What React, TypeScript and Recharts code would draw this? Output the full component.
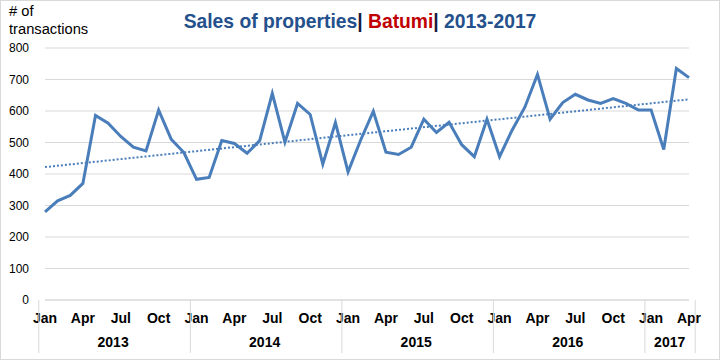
import { LineChart, Line, XAxis, YAxis, CartesianGrid } from "recharts";

const MONTHS = ["Jan", "Feb", "Mar", "Apr", "May", "Jun", "Jul", "Aug", "Sep", "Oct", "Nov", "Dec"];
const YEARS = [2013, 2014, 2015, 2016, 2017];

// monthly number of transactions
const sales2013 = [280, 315, 332, 370, 586, 561, 519, 485, 473, 603, 510, 468];
const sales2014 = [383, 389, 506, 497, 466, 506, 656, 501, 624, 589, 431, 563];
const sales2015 = [407, 508, 599, 469, 462, 485, 574, 532, 564, 493, 455, 574];
const sales2016 = [455, 540, 612, 716, 574, 627, 653, 635, 624, 639, 624, 603];
const sales2017 = [603, 478, 735, 706];
const SALES_BY_YEAR = [sales2013, sales2014, sales2015, sales2016, sales2017];

// linear trend end points (first and last month)
const TREND_START = 422;
const TREND_END = 637;

const Y_TICKS = [0, 100, 200, 300, 400, 500, 600, 700, 800];

const W = 720;
const H = 360;
const MARGIN = { top: 48, right: 31, left: 6, bottom: 5 };
const Y_W = 39;
const FONT = "'Liberation Sans', Arial, sans-serif";
const BLUE = "#4A7EBB";
const GRID = "#d9d9d9";

const data = SALES_BY_YEAR.flatMap((vals, yi) =>
  vals.map((v, mi) => ({
    label: `${MONTHS[mi]} ${YEARS[yi]}`,
    month: MONTHS[mi],
    year: YEARS[yi],
    mi,
    count: vals.length,
    sales: v,
  }))
).map((d, i, arr) => ({
  ...d,
  trend: i === 0 ? TREND_START : i === arr.length - 1 ? TREND_END : undefined,
}));

const FALLBACK_PLOT_W = W - 39 - MARGIN.right;

function TwoLevelTick(props: any) {
  const { x, y, payload } = props;
  const i = payload.index;
  const d = data[i];
  if (!d) return null;
  const plotW = typeof props.width === "number" && props.width > 100 ? props.width : FALLBACK_PLOT_W;
  const band = plotW / data.length;
  const left = x - band / 2;
  const isLast = i === data.length - 1;
  return (
    <g>
      {d.mi % 3 === 0 && (
        <text x={x} y={y + 23} textAnchor="middle" fontSize={14} fontWeight="bold" fill="#000" fontFamily={FONT}>
          {d.month}
        </text>
      )}
      {d.mi === 0 && (
        <>
          <line x1={left} x2={left} y1={y} y2={y + 53} stroke={GRID} strokeWidth={1} />
          <text x={left + (d.count * band) / 2} y={y + 47} textAnchor="middle" fontSize={14} fontWeight="bold" fill="#000" fontFamily={FONT}>
            {d.year}
          </text>
        </>
      )}
      {isLast && <line x1={x + band / 2} x2={x + band / 2} y1={y} y2={y + 53} stroke={GRID} strokeWidth={1} />}
    </g>
  );
}

export default function App() {
  return (
    <div style={{ position: "absolute", left: 0, top: 0, width: W, height: H, background: "#fff", fontFamily: FONT }}>
      <LineChart width={W} height={H} data={data} margin={MARGIN}>
        <CartesianGrid vertical={false} stroke={GRID} />
        <XAxis
          dataKey="label"
          interval={0}
          height={55}
          tickSize={0}
          tickMargin={0}
          tickLine={false}
          axisLine={{ stroke: GRID }}
          tick={<TwoLevelTick />}
        />
        <YAxis
          width={Y_W}
          domain={[0, 800]}
          ticks={Y_TICKS}
          axisLine={false}
          tickLine={false}
          tickMargin={10}
          tick={{ fontSize: 12, fill: "#000", fontFamily: FONT }}
        />
        <Line
          dataKey="trend"
          stroke={BLUE}
          strokeWidth={2}
          strokeDasharray="2 2"
          dot={false}
          connectNulls
          isAnimationActive={false}
        />
        <Line
          dataKey="sales"
          stroke={BLUE}
          strokeWidth={3}
          dot={false}
          isAnimationActive={false}
        />
      </LineChart>
      <div style={{ position: "absolute", left: 0, top: 12, width: W, textAlign: "center", fontSize: 19.3, lineHeight: 1, fontWeight: "bold", color: "#24508C", whiteSpace: "nowrap" }}>
        Sales of properties<span style={{ color: "#1a1a40" }}>|</span>{" "}
        <span style={{ color: "#C00000" }}>Batumi</span>
        <span style={{ color: "#1a1a40" }}>|</span> 2013-2017
      </div>
      <div style={{ position: "absolute", left: 9, top: 3, fontSize: 14.7, lineHeight: "17.7px", color: "#000" }}>
        # of
        <br />
        transactions
      </div>
      <div style={{ position: "absolute", left: 0, top: 0, width: W, height: H, border: `1px solid ${GRID}`, boxSizing: "border-box", pointerEvents: "none" }} />
    </div>
  );
}
